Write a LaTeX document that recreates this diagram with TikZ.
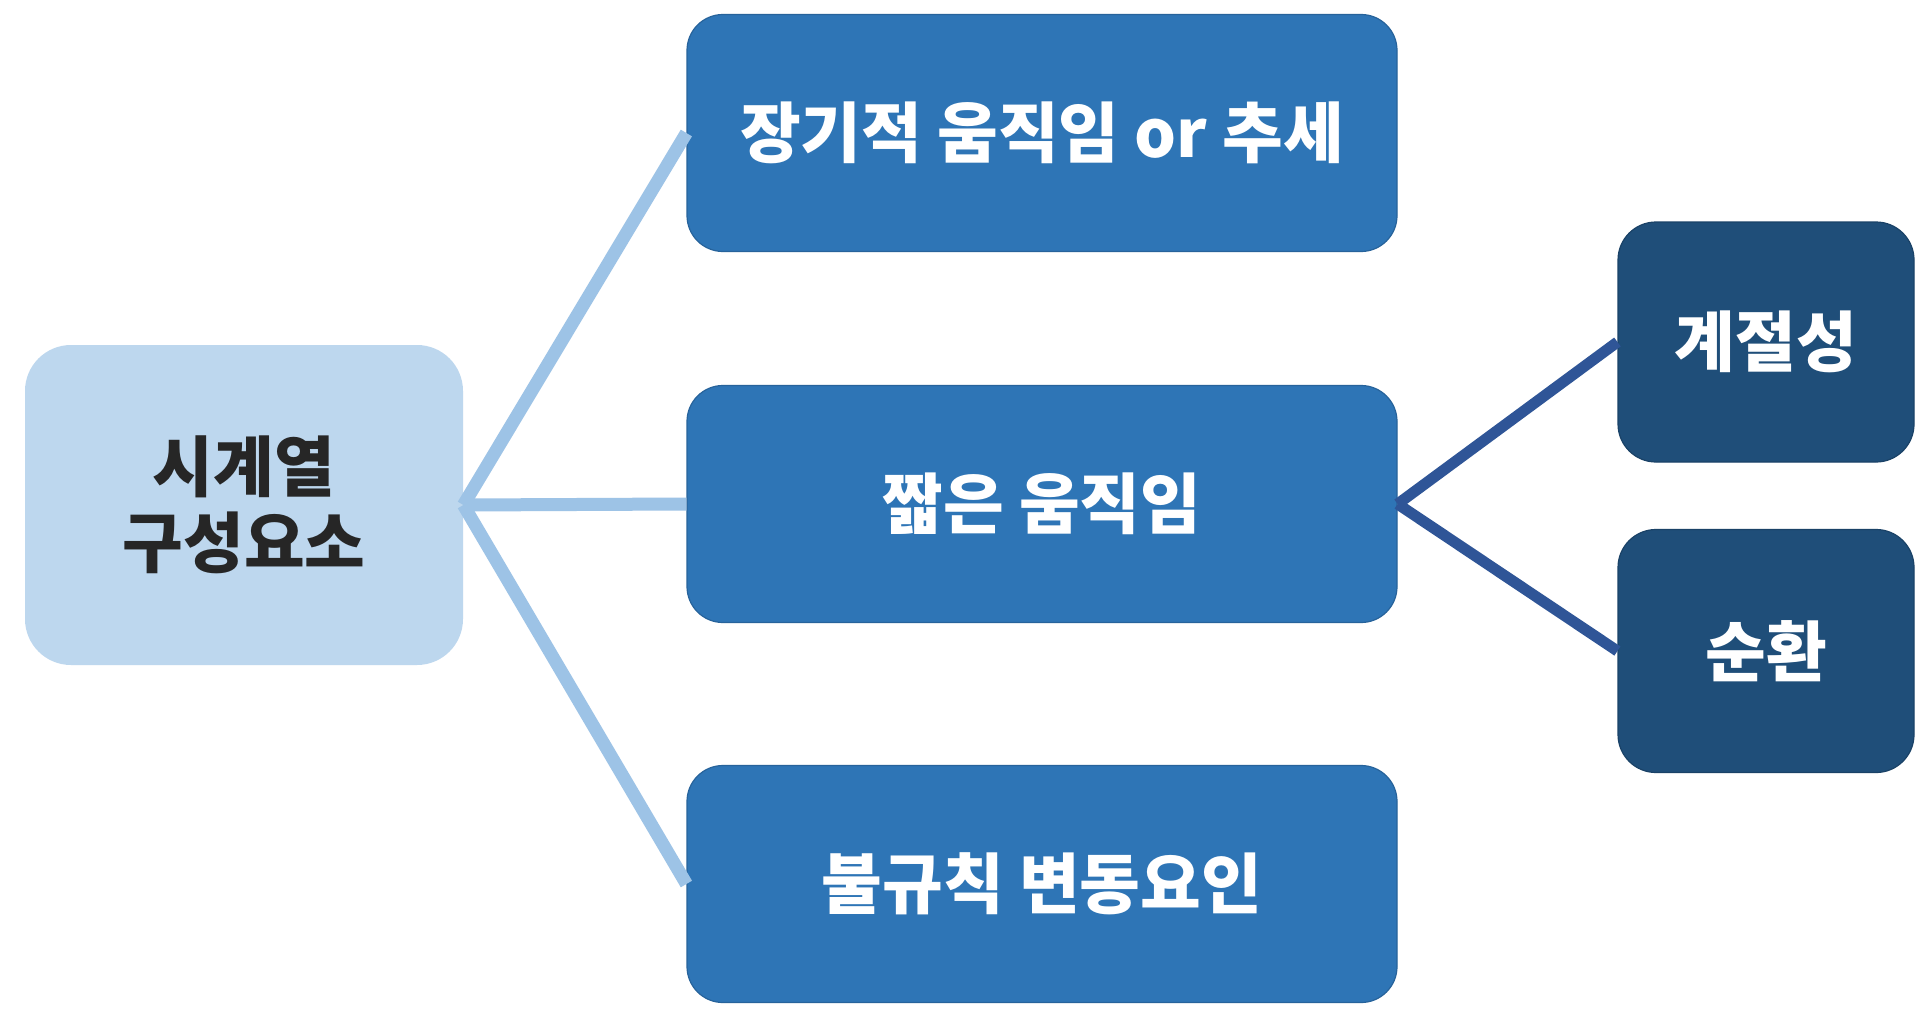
\documentclass[tikz,border=0pt]{standalone}
\usepackage{xcolor}
\usepackage{fontspec}
\setmainfont{Noto Sans CJK KR}
\definecolor{rootblue}{HTML}{BDD7EE}
\definecolor{midblue}{HTML}{2E75B6}
\definecolor{darkblue}{HTML}{1F4E79}
\definecolor{lightline}{HTML}{9DC3E6}
\definecolor{darkline}{HTML}{2F5597}

\begin{document}
\begin{tikzpicture}[x=0.5pt,y=-0.5pt,
  rootbox/.style={rectangle,rounded corners=23pt,fill=rootblue,inner sep=0pt,
    minimum width=219pt,minimum height=160pt,align=center,text=black!85,
    font=\fontsize{33}{38}\selectfont\bfseries},
  midbox/.style={rectangle,rounded corners=18pt,fill=midblue,draw=midblue!85!black,
    line width=0.6pt,inner sep=0pt,minimum width=355pt,minimum height=118.5pt,
    text=white,font=\fontsize{33}{38}\selectfont\bfseries},
  subbox/.style={rectangle,rounded corners=19pt,fill=darkblue,draw=darkblue!85!black,
    line width=0.6pt,inner sep=0pt,minimum width=148pt,minimum height=120pt,
    text=white,font=\fontsize{33}{38}\selectfont\bfseries},
  lightedge/.style={lightline,line width=6.5pt},
  darkedge/.style={darkline,line width=5.5pt}]
\useasboundingbox [fill=white] (0,0) rectangle (1931,1012);

\node [rootbox] (root) at (244,505) {시계열\\구성요소};
\node [midbox] (trend) at (1042,133) {장기적 움직임 or 추세};
\node [midbox] (short) at (1042,504) {짧은 움직임};
\node [midbox] (irreg) at (1042,884) {불규칙 변동요인};
\node [subbox] (season) at (1766,342) {계절성};
\node [subbox,minimum height=121.5pt] (cycle) at (1766,651) {순환};

\foreach \t in {trend,short,irreg}
\draw [lightedge] (root.east) -- (\t.west);
\foreach \t in {season,cycle}
\draw [darkedge] (short.east) -- (\t.west);

\end{tikzpicture}
\end{document}
